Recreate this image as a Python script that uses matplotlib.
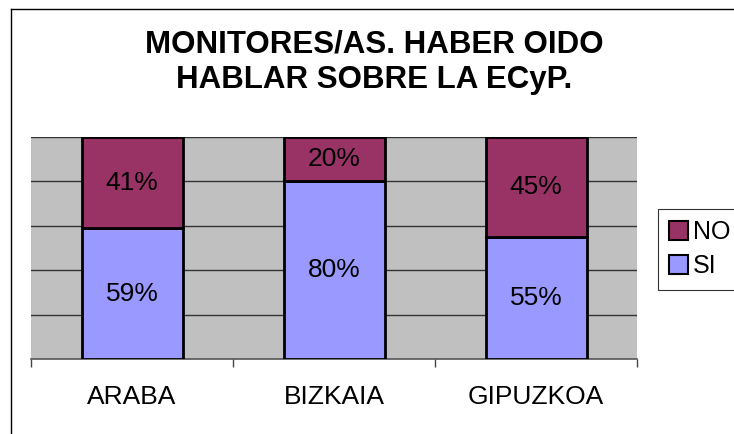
import matplotlib
matplotlib.use("Agg")
import matplotlib.pyplot as plt
from matplotlib.lines import Line2D
from matplotlib.patches import Patch

plt.rcParams['font.family'] = ['Liberation Sans', 'DejaVu Sans']

categories = ["ARABA", "BIZKAIA", "GIPUZKOA"]
si_values = [59, 80, 55]
no_values = [41, 20, 45]
series_names = ["NO", "SI"]

W, H = 734, 434
fig = plt.figure(figsize=(W / 100, H / 100), dpi=100)
fig.patch.set_facecolor("white")

# outer chart border (top and left visible)
fig.add_artist(Line2D([10.5 / W, 10.5 / W], [0, 1 - 8.5 / H], color="black", lw=1.0))
fig.add_artist(Line2D([10.5 / W, 1], [1 - 8.5 / H, 1 - 8.5 / H], color="black", lw=1.0))

ax = fig.add_axes([31 / W, (H - 359) / H, 606 / W, 222 / H])
ax.set_facecolor("#C0C0C0")

x = list(range(len(categories)))
c_si = "#9999FF"
c_no = "#993366"

ax.bar(x, si_values, width=0.5, color=c_si, edgecolor="black", linewidth=2, zorder=3)
ax.bar(x, no_values, bottom=si_values, width=0.5, color=c_no, edgecolor="black", linewidth=2, zorder=3)

for xi, s, n in zip(x, si_values, no_values):
    ax.text(xi, s / 2, f"{s}%", ha="center", va="center", fontsize=19, zorder=4)
    ax.text(xi, s + n / 2, f"{n}%", ha="center", va="center", fontsize=19, zorder=4)

ax.set_xlim(-0.5, 2.5)
ax.set_ylim(0, 100)
for yv in [20, 40, 60, 80, 100]:
    ax.axhline(yv, color="#333333", lw=1.0, zorder=1)

for s in ["left", "right", "top"]:
    ax.spines[s].set_visible(False)
ax.spines["bottom"].set_color("#555555")
ax.spines["bottom"].set_linewidth(1.2)
ax.set_yticks([])
ax.set_xticks(x)
ax.set_xticklabels(categories, fontsize=19)
ax.tick_params(axis="x", which="major", length=0, pad=19)
ax.set_xticks([-0.5, 0.5, 1.5, 2.5], minor=True)
ax.tick_params(axis="x", which="minor", length=6, width=1, color="#444444", direction="out")

fig.text(374 / W, 1 - 62.5 / H, "MONITORES/AS. HABER OIDO\nHABLAR SOBRE LA ECyP.",
         ha="center", va="center", fontsize=22.5, fontweight="bold", linespacing=1.25)

handles = [Patch(facecolor=c_no, edgecolor="black", linewidth=1.5),
           Patch(facecolor=c_si, edgecolor="black", linewidth=1.5)]
leg = fig.legend(handles, series_names, loc="upper left",
                 bbox_to_anchor=(658 / W, 1 - 209 / H), bbox_transform=fig.transFigure,
                 fontsize=18, frameon=True, fancybox=False, edgecolor="black",
                 handlelength=0.75, handleheight=0.75, handletextpad=0.2,
                 borderpad=0.45, labelspacing=0.4, borderaxespad=0)
leg.get_frame().set_linewidth(0.8)

fig.savefig("out.png", dpi=100)
